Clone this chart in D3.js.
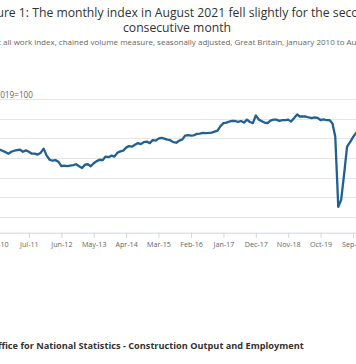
<!DOCTYPE html>
<html><head><meta charset="utf-8">
<script src="https://cdn.jsdelivr.net/npm/d3@7"></script>
<style>
html,body{margin:0;padding:0;background:#fff;overflow:hidden;}
svg{display:block;font-family:"Open Sans",sans-serif;}
</style></head>
<body>
<svg id="c" width="356" height="364"></svg>
<script>
const titleLines = ["Figure 1: The monthly index in August 2021 fell slightly for the second", "consecutive month"];
const subtitle = "Construction output all work index, chained volume measure, seasonally adjusted, Great Britain, January 2010 to August 2021";
const yAxisTitle = "2019=100";
const sourceText = "Source: Office for National Statistics - Construction Output and Employment";
const startMonth = "2010-01";
const tickLabels = ["Aug-10","Jul-11","Jun-12","May-13","Apr-14","Mar-15","Feb-16","Jan-17","Dec-17","Nov-18","Oct-19","Sep-20","Aug-21"];
const yTicks = [50,60,70,80,90,100,110];
// monthly index, Jan 2010 .. Aug 2021
const values2010 = [82.0,81.0,84.0,84.3,85.0,85.2,84.8,84.6,84.3,83.7,83.0,82.2];
const values2011 = [83.2,83.7,84.0,84.3,83.2,83.9,83.2,82.2,82.2,81.7,82.7,84.8];
const values2012 = [81.2,79.1,78.6,78.9,78.1,75.8,76.1,75.8,76.1,76.3,76.8,75.8];
const values2013 = [74.9,76.6,76.8,75.8,77.3,78.4,79.1,78.9,80.7,80.4,81.2,80.7];
const values2014 = [82.7,83.4,83.7,85.3,86.1,85.8,86.8,87.6,87.1,88.1,88.4,87.6];
const values2015 = [89.1,88.9,89.9,90.3,89.9,89.4,89.1,88.1,87.8,88.9,89.4,91.4];
const values2016 = [91.7,91.4,91.6,92.3,92.5,92.8,92.7,92.8,93.0,93.5,94.0,96.3];
const values2017 = [97.8,98.1,98.6,99.0,98.9,98.5,98.9,98.1,99.6,98.4,97.8,101.8];
const values2018 = [99.6,98.8,98.1,97.8,99.1,99.6,99.6,99.0,99.4,99.4,99.6,98.6];
const values2019 = [100.4,102.2,101.2,101.2,101.2,100.7,100.4,100.7,100.5,99.4,99.7,99.4];
const values2020 = [99.4,97.6,91.0,55.0,58.6,72.0,85.8,88.1,90.7,92.7,94.5,95.5];
const values2021 = [92.5,93.5,96.0,101.0,100.5,99.5,99.0,98.5];

const values = [].concat(values2010,values2011,values2012,values2013,values2014,values2015,values2016,values2017,values2018,values2019,values2020,values2021);
const parseM = d3.timeParse("%Y-%m");
const t0 = parseM(startMonth);
const data = values.map((v,i)=>({date:d3.timeMonth.offset(t0,i), v}));
const parseTick = d3.timeParse("%b-%y");
const tickDates = tickLabels.map(parseTick);

const svg = d3.select("#c");
const plot = {left:-24, right:385.4, top:99.3, bottom:232.7};

const x = d3.scaleTime().domain([t0, data[data.length-1].date]).range([plot.left, plot.right]);
const y = d3.scaleLinear().domain([41.8,110]).range([plot.bottom, plot.top]);

// titles
const tt = svg.append("text").attr("text-anchor","middle")
  .attr("font-size",12.2).attr("fill","#333333");
titleLines.forEach((l,i)=>tt.append("tspan").attr("x",177).attr("y",16.5+i*15).text(l));

// subtitle: shift so that "all work" begins at the left edge
const st = svg.append("text").attr("y",44.5).attr("font-size",8).attr("fill","#666666").text("Construction output ");
const pre = st.node().getComputedTextLength();
st.text(subtitle).attr("x",-pre+1);

// grid
svg.append("g").selectAll("line").data(yTicks).join("line")
  .attr("x1",plot.left).attr("x2",plot.right)
  .attr("y1",d=>Math.round(y(d))+0.5).attr("y2",d=>Math.round(y(d))+0.5)
  .attr("stroke","#e6e6e6").attr("stroke-width",1);

svg.append("text").attr("x",-4.5).attr("y",97.5).attr("font-size",8.2).attr("fill","#666666").text(yAxisTitle);

// x axis
const xAxis = d3.axisBottom(x).tickValues(tickDates).tickFormat((d,i)=>tickLabels[i]).tickSize(5).tickSizeOuter(0);
const gx = svg.append("g").attr("transform",`translate(0,${plot.bottom})`).call(xAxis);
gx.select(".domain").attr("stroke","#ccd6eb");
gx.selectAll(".tick line").attr("stroke","#ccd6eb");
gx.selectAll(".tick text").attr("fill","#666666").attr("font-size",7.2).attr("font-family","Open Sans, sans-serif").attr("dy","0.95em").attr("y",7);

// line
svg.append("path").datum(data)
  .attr("fill","none").attr("stroke","#206095").attr("stroke-width",2.3)
  .attr("stroke-linejoin","round").attr("stroke-linecap","round")
  .attr("d", d3.line().x(d=>x(d.date)).y(d=>y(d.v)));

// source
const so = svg.append("text").attr("y",349).attr("font-size",9.2).attr("font-weight","bold").attr("fill","#333333").text("Source: Of");
const pre2 = so.node().getComputedTextLength();
so.text(sourceText).attr("x",-pre2+1.5);
</script>
</body></html>
